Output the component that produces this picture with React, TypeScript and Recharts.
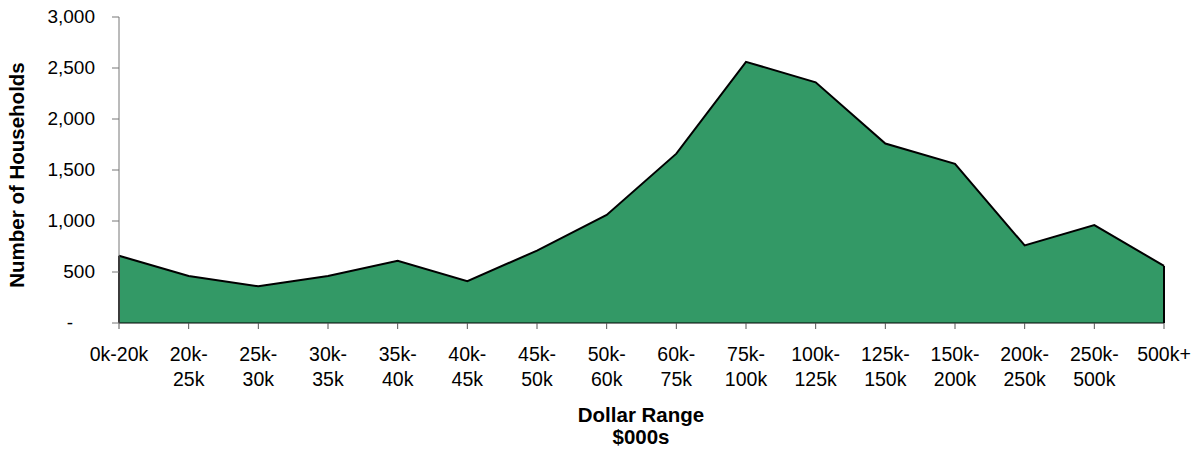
import React from "react";
import {
  AreaChart,
  Area,
  XAxis,
  YAxis,
  Label,
  ReferenceLine,
} from "recharts";

const ranges = [
  "0k-20k",
  "20k-25k",
  "25k-30k",
  "30k-35k",
  "35k-40k",
  "40k-45k",
  "45k-50k",
  "50k-60k",
  "60k-75k",
  "75k-100k",
  "100k-125k",
  "125k-150k",
  "150k-200k",
  "200k-250k",
  "250k-500k",
  "500k+",
];

const households = [
  660, 460, 360, 460, 610, 410, 710, 1060, 1660, 2560, 2360, 1760, 1560, 760,
  960, 560,
];

const yTicks = [0, 500, 1000, 1500, 2000, 2500, 3000];

const data = ranges.map((range, i) => ({ range, households: households[i] }));

const font = "'Liberation Sans', Arial, sans-serif";

// Excel-style two-line category labels: "20k-" / "25k"
const XTick = (props: any) => {
  const { x, y, payload } = props;
  const v: string = payload.value;
  const idx = v.indexOf("-");
  const lines =
    idx > 0 && idx < v.length - 1 && v !== "0k-20k"
      ? [v.slice(0, idx + 1), v.slice(idx + 1)]
      : [v];
  return (
    <g>
      {lines.map((l, i) => (
        <text
          key={i}
          x={x}
          y={y + 30 + i * 25}
          textAnchor="middle"
          fill="#000"
          fontSize={19.5}
          fontFamily={font}
        >
          {l}
        </text>
      ))}
    </g>
  );
};

const YTick = (props: any) => {
  const { x, y, payload } = props;
  const zero = payload.value === 0;
  return (
    <text
      x={zero ? x - 22 : x}
      y={y + 6}
      textAnchor="end"
      fill="#000"
      fontSize={19}
      fontFamily={font}
    >
      {zero ? "-" : payload.value.toLocaleString("en-US")}
    </text>
  );
};

export default function App() {
  return (
    <div style={{ position: "absolute", left: 0, top: 0, background: "#fff" }}>
      <AreaChart
        width={1193}
        height={451}
        data={data}
        margin={{ top: 17, right: 29, left: 0, bottom: 0 }}
      >
        <XAxis
          dataKey="range"
          interval={0}
          height={128}
          tickSize={6}
          stroke="#000"
          tickLine={{ stroke: "#555" }}
          tick={<XTick />}
        >
          <Label
            content={() => (
              <g fontFamily={font} fontSize={20.5} fontWeight="bold">
                <text x={641} y={422} textAnchor="middle" fill="#000">
                  Dollar Range
                </text>
                <text x={641} y={444} textAnchor="middle" fill="#000">
                  $000s
                </text>
              </g>
            )}
          />
        </XAxis>
        <YAxis
          width={119}
          domain={[0, 3000]}
          ticks={yTicks}
          interval={0}
          tickSize={7}
          tickMargin={17}
          stroke="#777"
          tick={<YTick />}
        >
          <Label
            content={() => (
              <text
                x={24}
                y={175}
                transform="rotate(-90 24 175)"
                textAnchor="middle"
                fill="#000"
                fontSize={20.5}
                fontWeight="bold"
                fontFamily={font}
              >
                Number of Households
              </text>
            )}
          />
        </YAxis>
        <Area
          type="linear"
          dataKey="households"
          fill="#339966"
          fillOpacity={1}
          stroke="#000"
          strokeWidth={2}
          isAnimationActive={false}
        />
        <ReferenceLine
          segment={[
            { x: ranges[0], y: 0 },
            { x: ranges[0], y: households[0] },
          ]}
          stroke="#000"
          strokeWidth={2}
        />
        <ReferenceLine
          segment={[
            { x: ranges[ranges.length - 1], y: 0 },
            { x: ranges[ranges.length - 1], y: households[households.length - 1] },
          ]}
          stroke="#000"
          strokeWidth={2}
        />
      </AreaChart>
    </div>
  );
}
